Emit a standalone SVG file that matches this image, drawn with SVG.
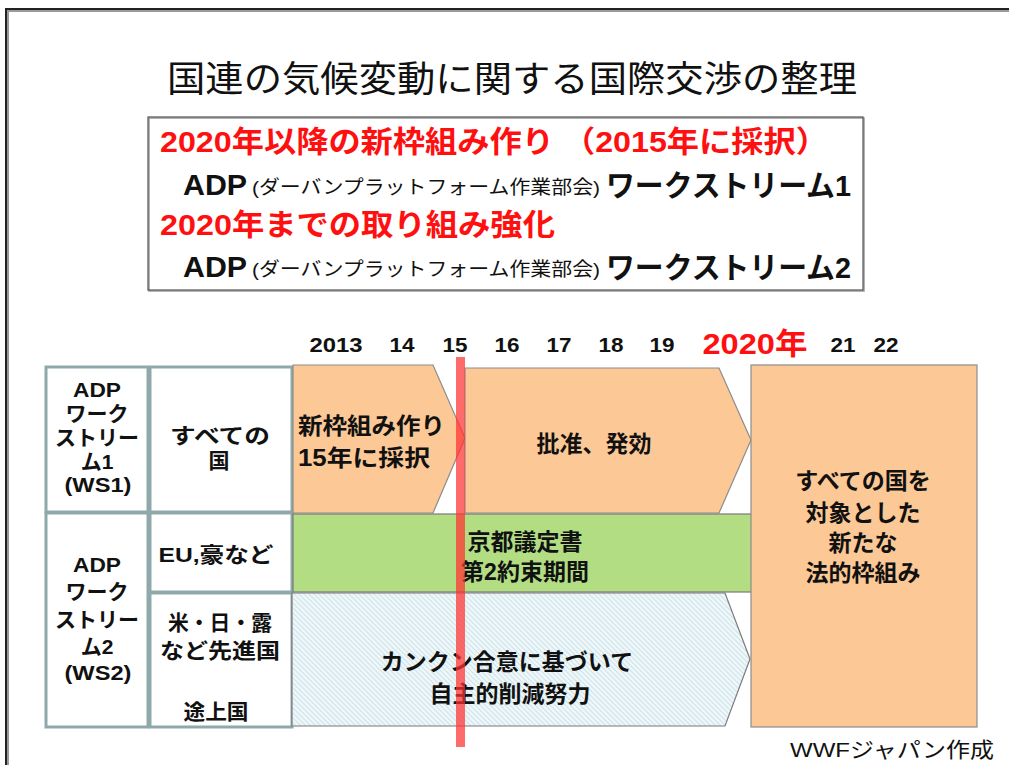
<svg xmlns="http://www.w3.org/2000/svg" width="1009" height="765" viewBox="0 0 1009 765">
<style>
text{font-family:"Liberation Sans","Noto Sans CJK JP",sans-serif;fill:#111}
.b{font-weight:bold}
.red{fill:#ff1010}
.cell{fill:#fff;stroke:#8fa9ab;stroke-width:3}
.orange{fill:#fcc896;stroke:#8c8c8c;stroke-width:1.2}
.mid{text-anchor:middle}
.cj{font-size:21px;font-weight:bold}
.bar{font-size:23px;font-weight:bold;text-anchor:middle}
.yr{font-size:21px;font-weight:bold;text-anchor:middle}
</style>
<defs>
<pattern id="hatch" patternUnits="userSpaceOnUse" width="5" height="5">
<rect width="5" height="5" fill="#eef7f9"/>
<path d="M-1,-1 L6,6 M-1,4 L1,6 M4,-1 L6,1" stroke="#cfe4ea" stroke-width="1.1"/>
</pattern>
</defs>
<rect width="1009" height="765" fill="#fff"/>
<g id="frame">
<path d="M7,767 V10 H1012" fill="none" stroke="#9a9a9a" stroke-width="2" transform="translate(1,1)"/>
<path d="M6,767 V9 H1012" fill="none" stroke="#222" stroke-width="2"/>
</g>
<g id="title">
<text x="512" y="92" class="mid" font-size="36" textLength="690" lengthAdjust="spacingAndGlyphs">国連の気候変動に関する国際交渉の整理</text>
</g>
<g id="summary-box">
<rect x="149" y="118" width="715" height="173" fill="#fff" stroke="#9a9a9a" stroke-width="1.5"/>
<rect x="148" y="117" width="715" height="173" fill="none" stroke="#555" stroke-width="1.2"/>
<text x="160" y="152" class="b red" font-size="30" textLength="668" lengthAdjust="spacingAndGlyphs">2020年以降の新枠組み作り （2015年に採択）</text>
<text x="183" y="195" class="b" font-size="30" textLength="64" lengthAdjust="spacingAndGlyphs">ADP</text>
<text x="252" y="194" font-size="19" textLength="348" lengthAdjust="spacingAndGlyphs">(ダーバンプラットフォーム作業部会)</text>
<text x="606" y="196" class="b" font-size="30" textLength="245" lengthAdjust="spacingAndGlyphs">ワークストリーム1</text>
<text x="160" y="235" class="b red" font-size="30" textLength="395" lengthAdjust="spacingAndGlyphs">2020年までの取り組み強化</text>
<text x="183" y="277" class="b" font-size="30" textLength="64" lengthAdjust="spacingAndGlyphs">ADP</text>
<text x="252" y="276" font-size="19" textLength="348" lengthAdjust="spacingAndGlyphs">(ダーバンプラットフォーム作業部会)</text>
<text x="606" y="278" class="b" font-size="30" textLength="245" lengthAdjust="spacingAndGlyphs">ワークストリーム2</text>
</g>
<g id="years">
<text x="336" y="352" class="yr" textLength="53" lengthAdjust="spacingAndGlyphs">2013</text>
<text x="402" y="352" class="yr" textLength="25" lengthAdjust="spacingAndGlyphs">14</text>
<text x="455" y="352" class="yr" textLength="25" lengthAdjust="spacingAndGlyphs">15</text>
<text x="507" y="352" class="yr" textLength="25" lengthAdjust="spacingAndGlyphs">16</text>
<text x="559" y="352" class="yr" textLength="25" lengthAdjust="spacingAndGlyphs">17</text>
<text x="611" y="352" class="yr" textLength="25" lengthAdjust="spacingAndGlyphs">18</text>
<text x="662" y="352" class="yr" textLength="25" lengthAdjust="spacingAndGlyphs">19</text>
<text x="755" y="354" class="b red mid" font-size="30" textLength="105" lengthAdjust="spacingAndGlyphs">2020年</text>
<text x="843" y="352" class="yr" textLength="25" lengthAdjust="spacingAndGlyphs">21</text>
<text x="886" y="352" class="yr" textLength="25" lengthAdjust="spacingAndGlyphs">22</text>
</g>
<g id="ws1-label">
<rect class="cell" x="46" y="367" width="102" height="145"/>
<text class="cj mid" x="97" y="397" textLength="48" lengthAdjust="spacingAndGlyphs">ADP</text>
<text class="cj mid" x="97" y="421">ワーク</text>
<text class="cj mid" x="97" y="445">ストリー</text>
<text class="cj mid" x="97" y="469">ム1</text>
<text class="cj mid" x="98" y="492" textLength="67" lengthAdjust="spacingAndGlyphs">(WS1)</text>
</g>
<g id="ws2-label">
<rect class="cell" x="46" y="513" width="102" height="214"/>
<text class="cj mid" x="97" y="572" textLength="48" lengthAdjust="spacingAndGlyphs">ADP</text>
<text class="cj mid" x="97" y="599">ワーク</text>
<text class="cj mid" x="97" y="627">ストリー</text>
<text class="cj mid" x="97" y="654">ム2</text>
<text class="cj mid" x="98" y="680" textLength="67" lengthAdjust="spacingAndGlyphs">(WS2)</text>
</g>
<g id="all-countries">
<rect class="cell" x="150" y="367" width="142" height="145"/>
<text class="cj mid" x="220" y="443" font-size="23" textLength="100" lengthAdjust="spacingAndGlyphs">すべての</text>
<text class="cj mid" x="219" y="468">国</text>
</g>
<g id="eu-etc">
<rect class="cell" x="150" y="513" width="142" height="79"/>
<text class="cj mid" x="216" y="562" font-size="22" textLength="115" lengthAdjust="spacingAndGlyphs">EU,豪など</text>
</g>
<g id="others">
<rect class="cell" x="150" y="593" width="142" height="134"/>
<text class="cj mid" x="220" y="630" font-size="22" textLength="104" lengthAdjust="spacingAndGlyphs">米・日・露</text>
<text class="cj mid" x="220" y="658" font-size="22" textLength="120" lengthAdjust="spacingAndGlyphs">など先進国</text>
<text class="cj mid" x="216" y="719" font-size="22" textLength="65" lengthAdjust="spacingAndGlyphs">途上国</text>
</g>
<g id="new-framework-arrow">
<polygon class="orange" points="293,365 433,365 465,438 433,513 293,513"/>
<text x="298" y="434" class="b" font-size="23" textLength="147" lengthAdjust="spacingAndGlyphs">新枠組み作り</text>
<text x="298" y="466" class="b" font-size="23" textLength="132" lengthAdjust="spacingAndGlyphs">15年に採択</text>
</g>
<g id="ratify-arrow">
<polygon class="orange" points="465,368 719,368 751,440 719,513 465,513"/>
<text x="594" y="452" class="bar">批准、発効</text>
</g>
<g id="kyoto">
<rect x="293" y="514" width="460" height="78" fill="#b3dd82" stroke="#7a7a7a" stroke-width="1.2"/>
<text x="525" y="550" class="bar">京都議定書</text>
<text x="525" y="580" class="bar">第2約束期間</text>
</g>
<g id="cancun-arrow">
<polygon points="292,593 725,593 750,659 725,726 292,726" fill="url(#hatch)" stroke="#7a7a7a" stroke-width="1.2"/>
<text x="507" y="670" class="bar">カンクン合意に基づいて</text>
<text x="510" y="702" class="bar">自主的削減努力</text>
</g>
<g id="new-legal-framework">
<rect class="orange" x="751" y="365" width="226" height="362"/>
<text x="863" y="489" class="bar">すべての国を</text>
<text x="863" y="521" class="bar">対象とした</text>
<text x="863" y="551" class="bar">新たな</text>
<text x="863" y="581" class="bar">法的枠組み</text>
</g>
<g id="connectors">
<rect id="line-2015" x="456" y="357" width="9" height="390" fill="#ff3030" opacity="0.72"/>
</g>
<g id="credit">
<text x="790" y="757" font-size="21" textLength="204" lengthAdjust="spacingAndGlyphs">WWFジャパン作成</text>
</g>
</svg>
